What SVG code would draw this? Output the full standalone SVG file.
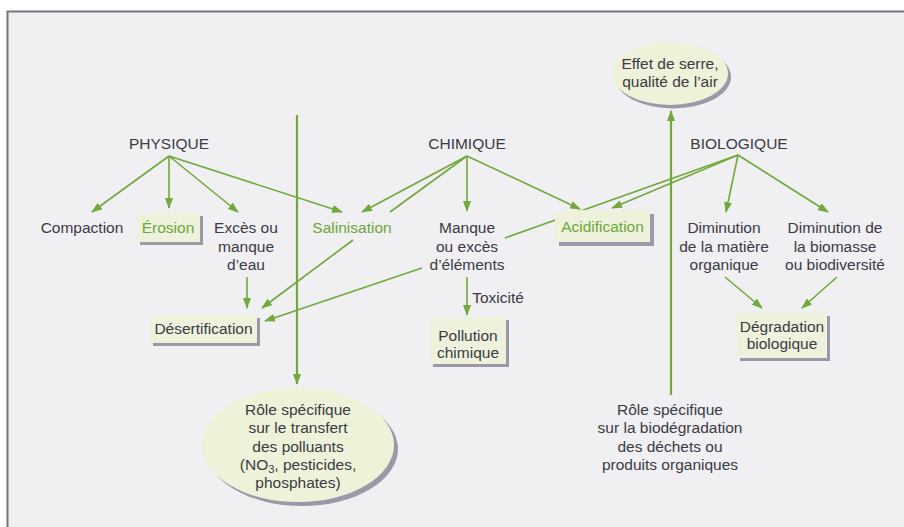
<svg xmlns="http://www.w3.org/2000/svg" width="904" height="527" viewBox="0 0 904 527">
<defs>
<marker id="ah" markerUnits="userSpaceOnUse" markerWidth="11" markerHeight="8" refX="10" refY="4" orient="auto">
<path d="M0,0 L11,4 L0,8 Z" fill="#72a83c"/>
</marker>
<style>
text{font-family:"Liberation Sans",Arial,sans-serif;font-size:15.5px;fill:#3b3a45;text-anchor:middle}
text.g{fill:#6ca83a}
.ln{stroke:#72a83c;stroke-width:1.6;fill:none}
.ln.a{marker-end:url(#ah)}
.vl{stroke:#72a83c;stroke-width:2.2;fill:none;marker-end:url(#ah)}
.box{fill:#eef2dc}
.sh{fill:#9b99a8}
.ell{fill:#eef2d8}
</style>
</defs>
<rect x="0" y="0" width="904" height="527" fill="#ffffff"/>
<rect x="7" y="11" width="897" height="516" fill="#f0eff2"/>
<path d="M7.5,527 V11.5 H904" stroke="#77767d" stroke-width="2" fill="none"/>

<g id="connectors">
<line class="ln a" x1="169" y1="156" x2="92" y2="212"/>
<line class="ln a" x1="169" y1="156" x2="169" y2="208"/>
<line class="ln a" x1="169" y1="156" x2="238" y2="212"/>
<line class="ln a" x1="169" y1="156" x2="342" y2="212"/>
<line class="ln a" x1="467" y1="156" x2="362" y2="212"/>
<line class="ln" x1="467" y1="156" x2="390" y2="212"/>
<line class="ln a" x1="353" y1="240" x2="262" y2="308"/>
<line class="ln a" x1="467" y1="156" x2="467" y2="211"/>
<line class="ln a" x1="467" y1="156" x2="580" y2="209"/>
<line class="ln a" x1="738" y1="155" x2="612" y2="208"/>
<line class="ln" x1="738" y1="155" x2="505" y2="238"/>
<line class="ln a" x1="422" y1="268" x2="265" y2="321"/>
<line class="ln a" x1="738" y1="155" x2="726" y2="212"/>
<line class="ln a" x1="738" y1="155" x2="828" y2="212"/>
<line class="ln a" x1="725" y1="277" x2="762" y2="308"/>
<line class="ln a" x1="837" y1="277" x2="802" y2="308"/>
<line class="ln a" x1="247" y1="277" x2="247" y2="308"/>
<line class="ln a" x1="467" y1="277" x2="467" y2="315"/>
<line class="vl" x1="297" y1="115" x2="297" y2="384"/>
<line class="vl" x1="671" y1="395" x2="671" y2="111"/>
</g>

<g id="physique"><text x="169" y="149">PHYSIQUE</text></g>
<g id="chimique"><text x="467" y="149">CHIMIQUE</text></g>
<g id="biologique"><text x="739" y="149">BIOLOGIQUE</text></g>

<g id="compaction"><text x="82" y="233">Compaction</text></g>
<g id="erosion">
<rect class="sh" x="140" y="216" width="63" height="29"/>
<rect class="box" x="137" y="213" width="63" height="29"/>
<text class="g" x="168" y="233">Érosion</text>
</g>
<g id="exces-eau">
<text x="246" y="233">Excès ou</text>
<text x="246" y="251.5">manque</text>
<text x="246" y="270">d’eau</text>
</g>
<g id="salinisation"><text class="g" x="352" y="233">Salinisation</text></g>
<g id="manque-elements">
<text x="467" y="233">Manque</text>
<text x="467" y="251.5">ou excès</text>
<text x="467" y="270">d’éléments</text>
</g>
<g id="acidification">
<rect class="sh" x="559" y="214" width="95" height="32"/>
<rect class="box" x="555" y="210" width="95" height="32"/>
<text class="g" x="602.5" y="232">Acidification</text>
</g>
<g id="diminution-mo">
<text x="724" y="233">Diminution</text>
<text x="724" y="251.5">de la matière</text>
<text x="724" y="270">organique</text>
</g>
<g id="diminution-biomasse">
<text x="835" y="233">Diminution de</text>
<text x="835" y="251.5">la biomasse</text>
<text x="835" y="270">ou biodiversité</text>
</g>
<g id="desertification">
<rect class="sh" x="153" y="318" width="107" height="28"/>
<rect class="box" x="150" y="315" width="107" height="28"/>
<text x="203.5" y="334">Désertification</text>
</g>
<g id="toxicite"><text x="498" y="303">Toxicité</text></g>
<g id="pollution">
<rect class="sh" x="433" y="320" width="76" height="47"/>
<rect class="box" x="430" y="317" width="76" height="47"/>
<text x="468" y="341">Pollution</text>
<text x="468" y="357.5">chimique</text>
</g>
<g id="degradation">
<rect class="sh" x="740" y="316" width="90" height="45"/>
<rect class="box" x="737" y="313" width="90" height="45"/>
<text x="782" y="332">Dégradation</text>
<text x="782" y="348.5">biologique</text>
</g>
<g id="effet-serre">
<ellipse class="sh" cx="673" cy="77" rx="58" ry="31.5"/>
<ellipse class="ell" cx="670" cy="73.5" rx="58" ry="31.5"/>
<text x="670" y="69">Effet de serre,</text>
<text x="670" y="87">qualité de l’air</text>
</g>
<g id="role-transfert">
<ellipse class="sh" cx="302" cy="449" rx="96" ry="57"/>
<ellipse class="ell" cx="298" cy="445" rx="96" ry="57"/>
<text x="298" y="415">Rôle spécifique</text>
<text x="298" y="433">sur le transfert</text>
<text x="298" y="451.5">des polluants</text>
<text x="298" y="470">(NO<tspan font-size="11" dy="3">3</tspan><tspan dy="-3">, pesticides,</tspan></text>
<text x="298" y="488">phosphates)</text>
</g>
<g id="role-biodegradation">
<text x="670" y="415">Rôle spécifique</text>
<text x="670" y="433">sur la biodégradation</text>
<text x="670" y="451.5">des déchets ou</text>
<text x="670" y="470">produits organiques</text>
</g>
</svg>
